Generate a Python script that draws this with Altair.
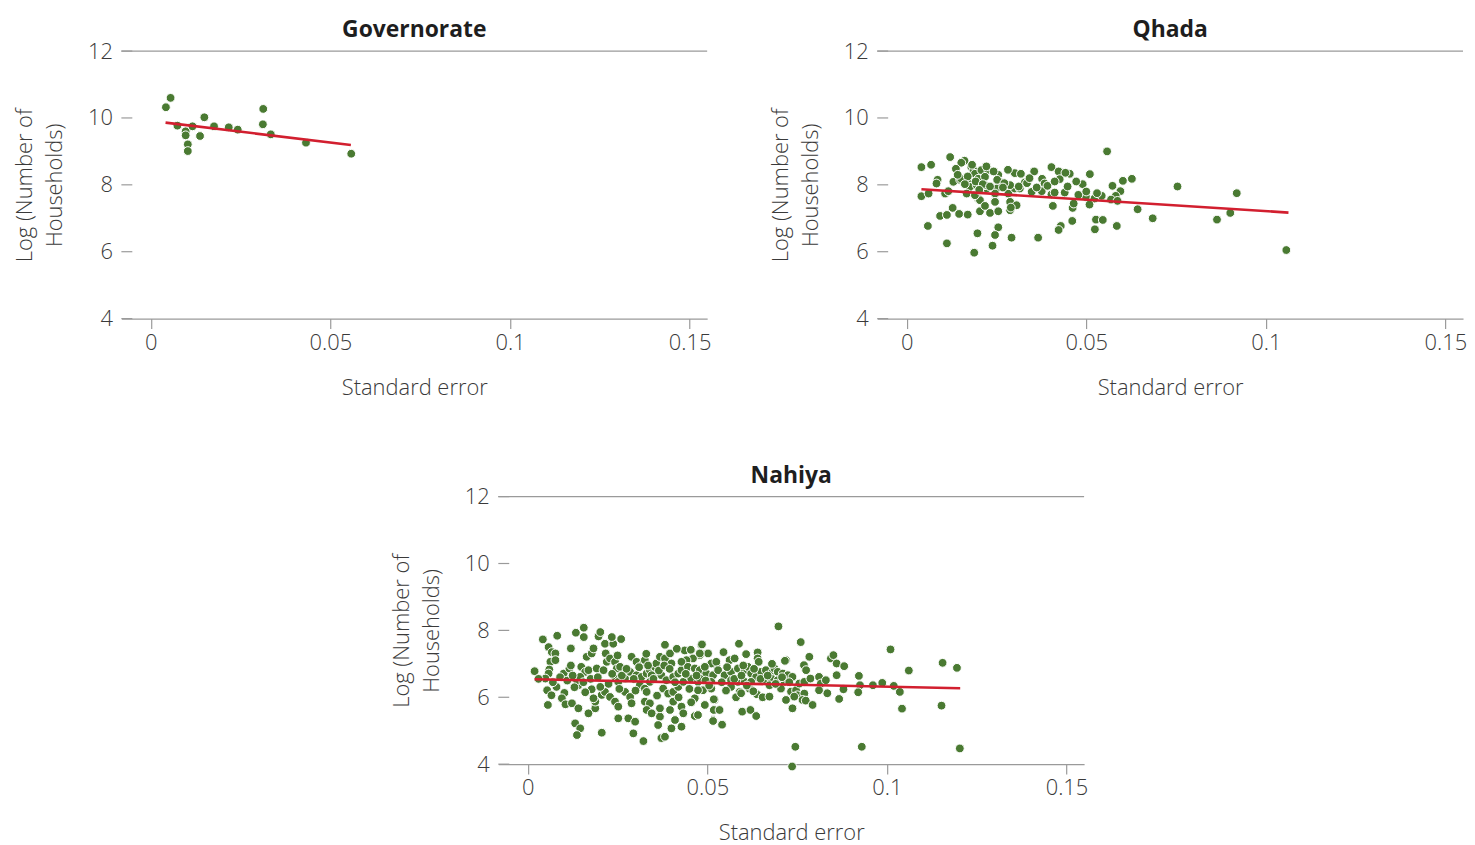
import altair as alt
import pandas as pd

FONT = "Open Sans"
GREEN = "#4a7a32"
RED = "#d21f2f"
GREY = "#9a9a9a"

X_DOMAIN = [-0.0082, 0.1549]
X_TICKS = [0, 0.05, 0.1, 0.15]
Y_TICKS = [4, 6, 8, 10, 12]
W, H = 589, 269

# ---------------- Governorate ----------------
gov_x = [0.0042, 0.0055, 0.0074, 0.0097, 0.0097, 0.0103, 0.0103, 0.0116, 0.0137,
         0.0149, 0.0176, 0.0217, 0.0242, 0.0313, 0.0312, 0.0334, 0.0432, 0.0558]
gov_y = [10.32, 10.60, 9.77, 9.60, 9.48, 9.21, 9.01, 9.75, 9.46,
         10.02, 9.75, 9.72, 9.65, 10.27, 9.81, 9.51, 9.26, 8.93]
gov_line_x = [0.0041, 0.0557]
gov_line_y = [9.86, 9.19]

# ---------------- Qhada ----------------
qhada_x = [0.0041, 0.0068, 0.0121, 0.0161, 0.0152, 0.0137, 0.0180, 0.0186, 0.0190, 0.0208,
           0.0227, 0.0086, 0.0083, 0.0130, 0.0149, 0.0152, 0.0172, 0.0176, 0.0199, 0.0218,
           0.0255, 0.0260, 0.0301, 0.0318, 0.0355, 0.0403, 0.0423, 0.0454, 0.0510, 0.0558,
           0.0627, 0.0602, 0.0573, 0.0595, 0.0582, 0.0426, 0.0377, 0.0384, 0.0329, 0.0490,
           0.0041, 0.0061, 0.0107, 0.0116, 0.0283, 0.0288, 0.0306, 0.0348, 0.0376, 0.0403,
           0.0412, 0.0440, 0.0499, 0.0523, 0.0543, 0.0569, 0.0587, 0.0199, 0.0204, 0.0246,
           0.0128, 0.0093, 0.0112, 0.0146, 0.0170, 0.0204, 0.0232, 0.0255, 0.0218, 0.0288,
           0.0290, 0.0407, 0.0462, 0.0465, 0.0509, 0.0643, 0.0059, 0.0197, 0.0255, 0.0246,
           0.0292, 0.0366, 0.0429, 0.0423, 0.0461, 0.0527, 0.0546, 0.0524, 0.0585, 0.0685,
           0.0112, 0.0188, 0.0239, 0.0754, 0.0864, 0.0901, 0.0919, 0.1057, 0.0223, 0.0195,
           0.0218, 0.0250, 0.0301, 0.0315, 0.0288, 0.0167, 0.0190, 0.0246, 0.0246,
           0.0170, 0.0192, 0.0212, 0.0232, 0.0252, 0.0272, 0.0182, 0.0222, 0.0242, 0.0202,
           0.0268, 0.0312, 0.0335, 0.0362, 0.0392, 0.0448, 0.0478, 0.0500, 0.0530, 0.0142,
           0.0162, 0.0282, 0.0342, 0.0412, 0.0442, 0.0472]
qhada_y = [8.53, 8.60, 8.83, 8.72, 8.66, 8.48, 8.53, 8.44, 8.33, 8.44,
           8.45, 8.15, 8.04, 8.09, 8.15, 8.18, 8.04, 7.94, 8.18, 8.24,
           8.30, 8.09, 8.35, 8.33, 8.40, 8.53, 8.40, 8.33, 8.32, 9.00,
           8.18, 8.12, 7.97, 7.81, 7.67, 8.17, 8.18, 8.04, 8.07, 8.02,
           7.66, 7.74, 7.74, 7.81, 7.74, 7.49, 7.39, 7.79, 7.81, 7.71,
           7.77, 7.77, 7.64, 7.59, 7.67, 7.56, 7.52, 7.59, 7.54, 7.51,
           7.31, 7.07, 7.10, 7.13, 7.11, 7.21, 7.16, 7.21, 7.37, 7.24,
           7.32, 7.37, 7.31, 7.44, 7.41, 7.27, 6.77, 6.55, 6.73, 6.50,
           6.42, 6.42, 6.77, 6.65, 6.92, 6.96, 6.95, 6.67, 6.77, 7.00,
           6.25, 5.97, 6.18, 7.95, 6.96, 7.16, 7.75, 6.05, 7.89, 7.99,
           7.99, 7.89, 7.89, 7.89, 7.99, 7.74, 7.69, 7.74, 7.49,
           8.25, 8.10, 8.02, 7.95, 8.15, 8.05, 8.60, 8.55, 8.40, 7.85,
           7.92, 7.95, 8.05, 7.92, 7.97, 7.95, 7.70, 7.80, 7.75, 8.30,
           8.02, 8.45, 8.20, 8.10, 8.36, 8.10]
qhada_line_x = [0.0041, 0.1063]
qhada_line_y = [7.87, 7.17]

# ---------------- Nahiya ----------------
nahiya_x = [0.0019, 0.0042, 0.0082, 0.0058, 0.0067, 0.0077, 0.0063, 0.0077, 0.0060, 0.0058,
            0.0049, 0.0054, 0.0066, 0.0056, 0.0080, 0.0100, 0.0102, 0.0095, 0.0105, 0.0120,
            0.0116, 0.0123, 0.0134, 0.0156, 0.0156, 0.0141, 0.0132, 0.0146, 0.0137, 0.0149,
            0.0160, 0.0169, 0.0164, 0.0178, 0.0183, 0.0197, 0.0202, 0.0215, 0.0217, 0.0238,
            0.0234, 0.0260, 0.0169, 0.0188, 0.0188, 0.0183, 0.0206, 0.0215, 0.0178, 0.0202,
            0.0206, 0.0141, 0.0137, 0.0146, 0.0192, 0.0211, 0.0220, 0.0229, 0.0243, 0.0248,
            0.0257, 0.0243, 0.0252, 0.0271, 0.0229, 0.0243, 0.0252, 0.0252, 0.0280, 0.0299,
            0.0294, 0.0322, 0.0271, 0.0285, 0.0289, 0.0289, 0.0303, 0.0322, 0.0326, 0.0285,
            0.0303, 0.0317, 0.0331, 0.0340, 0.0345, 0.0354, 0.0358, 0.0312, 0.0326, 0.0331,
            0.0340, 0.0326, 0.0340, 0.0331, 0.0345, 0.0368, 0.0363, 0.0372, 0.0382, 0.0382,
            0.0368, 0.0382, 0.0396, 0.0400, 0.0372, 0.0386, 0.0405, 0.0419, 0.0428, 0.0377,
            0.0391, 0.0405, 0.0419, 0.0433, 0.0368, 0.0396, 0.0405, 0.0428, 0.0433, 0.0410,
            0.0428, 0.0400, 0.0437, 0.0454, 0.0483, 0.0479, 0.0460, 0.0442, 0.0428, 0.0446,
            0.0465, 0.0479, 0.0497, 0.0525, 0.0516, 0.0455, 0.0474, 0.0488, 0.0465, 0.0479,
            0.0511, 0.0520, 0.0516, 0.0465, 0.0493,
            0.0698, 0.0760, 0.0485, 0.0502, 0.0479, 0.0588, 0.0608, 0.0640, 0.0640, 0.0643,
            0.0562, 0.0576, 0.0511, 0.0525, 0.0493, 0.0530, 0.0548, 0.0566, 0.0585, 0.0604,
            0.0613, 0.0622, 0.0636, 0.0650, 0.0663, 0.0682, 0.0687, 0.0696, 0.0710, 0.0724,
            0.0737, 0.0719, 0.0566, 0.0585, 0.0604, 0.0622, 0.0659, 0.0678, 0.0696, 0.0715,
            0.0474, 0.0511, 0.0566, 0.0590, 0.0617, 0.0673, 0.0705, 0.0518, 0.0580, 0.0594,
            0.0638, 0.0654, 0.0673, 0.0719, 0.0733, 0.0747, 0.0751, 0.0770, 0.0765, 0.0742,
            0.0737, 0.0774, 0.0793, 0.0518, 0.0534, 0.0516, 0.0541, 0.0597, 0.0620, 0.0636,
            0.0756, 0.0770, 0.0787, 0.0769, 0.0775, 0.0784, 0.0716, 0.0811, 0.0816, 0.0830,
            0.0834, 0.0811, 0.0844, 0.0851, 0.0860, 0.0881, 0.0860, 0.0879, 0.0867, 0.0922,
            0.0925, 0.0920, 0.0961, 0.0987, 0.1019, 0.1010, 0.1061, 0.1036, 0.1042, 0.1155,
            0.1195, 0.1152, 0.0745, 0.0930, 0.1203, 0.0736, 0.0474,
            0.0030, 0.0070, 0.0090, 0.0110, 0.0125, 0.0130, 0.0155, 0.0175, 0.0195, 0.0225,
            0.0235, 0.0262, 0.0275, 0.0295, 0.0310, 0.0335, 0.0350, 0.0365, 0.0380, 0.0395,
            0.0410, 0.0440, 0.0450, 0.0470, 0.0495, 0.0505, 0.0540, 0.0555, 0.0575, 0.0595,
            0.0610, 0.0630, 0.0648, 0.0668, 0.0690, 0.0708, 0.0728, 0.0552, 0.0628, 0.0300,
            0.0255, 0.0160, 0.0360, 0.0420, 0.0455, 0.0120, 0.0250, 0.0330, 0.0415, 0.0545,
            0.0600, 0.0680]
nahiya_y = [6.78, 7.73, 7.84, 7.50, 7.35, 7.31, 7.06, 7.11, 6.83, 6.71,
            6.56, 6.21, 6.06, 5.77, 6.31, 6.71, 6.13, 5.97, 5.79, 7.46,
            6.86, 5.82, 7.93, 8.08, 7.80, 5.67, 5.22, 5.07, 4.87, 6.91,
            6.76, 6.81, 7.21, 7.31, 7.46, 7.82, 7.95, 7.60, 7.31, 7.60,
            7.80, 7.74, 5.52, 5.67, 5.87, 5.97, 6.07, 6.16, 6.24, 6.31,
            4.94, 6.36, 6.51, 6.61, 6.86, 6.81, 7.06, 7.16, 7.06, 6.86,
            6.91, 6.61, 6.46, 6.56, 6.01, 5.87, 5.72, 5.37, 5.37, 5.27,
            4.92, 4.69, 6.16, 6.01, 5.82, 7.21, 7.06, 7.01, 7.11, 6.76,
            6.66, 6.61, 6.71, 6.81, 6.66, 6.91, 7.01, 6.36, 6.26, 6.16,
            6.46, 5.87, 5.82, 5.62, 5.52, 5.42, 5.17, 4.78, 4.82, 7.57,
            7.21, 7.16, 7.31, 7.01, 6.66, 6.51, 6.61, 6.71, 6.81, 6.26,
            6.11, 6.16, 6.31, 6.46, 5.67, 5.62, 5.87, 5.72, 5.52, 5.32,
            5.12, 5.07, 7.40, 7.42, 7.57, 7.26, 7.16, 7.11, 7.06, 6.91,
            6.86, 6.81, 6.71, 6.96, 6.66, 6.56, 6.46, 6.21, 5.97, 6.56,
            6.46, 5.92, 5.32, 5.44, 5.77,
            8.12, 7.65, 7.58, 7.31, 7.31, 7.60, 7.29, 7.34, 7.16, 7.06,
            7.11, 7.16, 7.01, 7.06, 6.91, 6.81, 6.66, 6.76, 6.86, 6.81,
            6.91, 6.71, 6.61, 6.76, 6.81, 6.76, 6.86, 6.76, 6.71, 6.66,
            6.61, 7.11, 6.51, 6.46, 6.46, 6.46, 6.51, 6.56, 6.51, 6.46,
            6.21, 6.26, 6.31, 6.16, 6.26, 6.36, 6.26, 5.94, 6.00, 6.12,
            6.09, 6.00, 6.02, 5.92, 6.17, 6.21, 6.06, 6.11, 5.92, 6.02,
            5.67, 5.90, 5.77, 5.62, 5.62, 5.29, 5.18, 5.57, 5.62, 5.44,
            6.41, 6.46, 6.56, 6.96, 6.81, 7.21, 7.09, 6.61, 6.41, 6.51,
            6.12, 6.21, 7.16, 7.26, 7.01, 6.93, 6.66, 6.24, 5.95, 6.64,
            6.36, 6.15, 6.36, 6.43, 6.34, 7.43, 6.80, 6.16, 5.66, 7.03,
            6.88, 5.75, 4.52, 4.52, 4.47, 3.93, 5.47,
            6.55, 6.45, 6.60, 6.50, 6.65, 6.30, 6.45, 6.55, 6.60, 6.40,
            6.70, 6.65, 6.85, 6.55, 6.90, 6.95, 6.55, 6.80, 6.95, 6.85,
            6.45, 6.70, 6.25, 6.65, 6.50, 6.35, 6.45, 6.90, 6.55, 6.65,
            6.35, 6.85, 6.55, 6.65, 6.40, 6.60, 6.45, 6.20, 6.18, 6.20,
            6.25, 6.15, 6.05, 6.00, 5.85, 6.95, 7.25, 7.30, 7.45, 7.35,
            6.95, 7.00]
nahiya_line_x = [0.0019, 0.1204]
nahiya_line_y = [6.54, 6.27]

X_AXIS = alt.Axis(values=X_TICKS, format="~g", title="Standard error",
                  tickSize=10, labelPadding=4, titlePadding=24, grid=False)
Y_AXIS = alt.Axis(values=Y_TICKS, ticks=False, domain=False, grid=False,
                  labelPadding=9, title=["Log (Number of", "Households)"],
                  titlePadding=21)
X_SCALE = alt.Scale(domain=X_DOMAIN, nice=False, zero=False)
Y_SCALE = alt.Scale(domain=[4, 12], nice=False, zero=False)


def x_enc():
    return alt.X("se:Q", scale=X_SCALE, axis=X_AXIS)


def y_enc():
    return alt.Y("lh:Q", scale=Y_SCALE, axis=Y_AXIS)


def panel(title, xs, ys, lx, ly):
    pts = pd.DataFrame({"se": xs, "lh": ys})
    line = pd.DataFrame({"se": lx, "lh": ly})
    ticks = pd.DataFrame({"lh": Y_TICKS})
    top = pd.DataFrame({"lh": [max(Y_TICKS)]})

    points = alt.Chart(pts).mark_circle(
        size=78, color=GREEN, opacity=1, stroke="white", strokeWidth=1
    ).encode(x=x_enc(), y=y_enc())

    fit = alt.Chart(line).mark_line(color=RED, strokeWidth=2.6).encode(
        x=x_enc(), y=y_enc())

    tick_rules = alt.Chart(ticks).mark_rule(color=GREY, strokeWidth=1.2).encode(
        y=y_enc(), x=alt.value(0), x2=alt.value(11))

    top_rule = alt.Chart(top).mark_rule(color=GREY, strokeWidth=1.2).encode(
        y=y_enc(), x=alt.value(0), x2=alt.value(W))

    return alt.layer(points, fit, tick_rules, top_rule).properties(
        width=W, height=H,
        title=alt.TitleParams(title, fontSize=23, fontWeight="bold", font=FONT,
                              color="#1e1e1e", anchor="middle", frame="group", offset=-2),
    )


p1 = panel("Governorate", gov_x, gov_y, gov_line_x, gov_line_y)
p2 = panel("Qhada", qhada_x, qhada_y, qhada_line_x, qhada_line_y)
p3 = panel("Nahiya", nahiya_x, nahiya_y, nahiya_line_x, nahiya_line_y)

spacer = alt.Chart(pd.DataFrame({"a": [0]})).mark_point(opacity=0).encode(
    x=alt.X("a:Q", axis=None), y=alt.Y("a:Q", axis=None)
).properties(width=270, height=10)

top_row = alt.hconcat(p1, p2, spacing=58)
bottom_row = alt.hconcat(spacer, p3, spacing=0)

chart = alt.vconcat(top_row, bottom_row, spacing=67).properties(
    padding={"left": 5, "top": 9, "right": 0, "bottom": 2}
).configure_view(stroke=None).configure_axis(
    labelFont=FONT, labelFontSize=22, labelFontWeight=300, labelColor="#3a3a3a",
    titleFont=FONT, titleFontSize=22, titleFontWeight=300, titleColor="#3a3a3a",
    domainColor=GREY, domainWidth=1.2, tickColor=GREY, tickWidth=1.2,
    titleLineHeight=30,
)

chart.save("out.html", embed_options={"renderer": "svg", "actions": False})
